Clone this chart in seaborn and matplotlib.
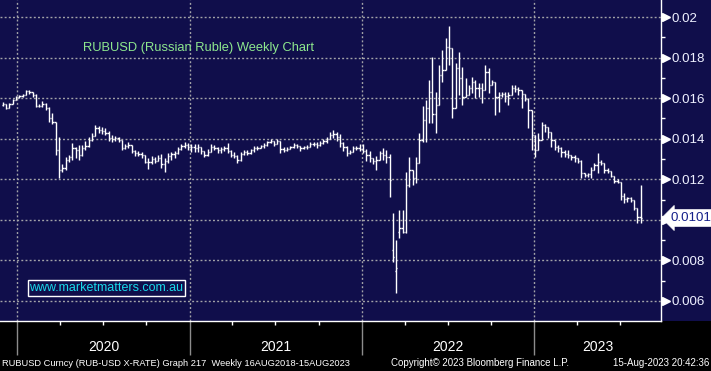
import numpy as np
import pandas as pd
import matplotlib
matplotlib.use("Agg")
import matplotlib.pyplot as plt
import matplotlib.dates as mdates
import matplotlib.transforms as mtransforms
from matplotlib.ticker import FuncFormatter, MultipleLocator, NullFormatter
from matplotlib.patches import Rectangle
import seaborn as sns

# ---------------- data (weekly OHLC, RUBUSD) ----------------
first_week = "2019-12-02"

open_ = [
    0.01566, 0.01571, 0.01552, 0.01571, 0.01591, 0.01606, 0.01611, 0.01616, 0.01635, 0.01630,
    0.01616, 0.01561, 0.01561, 0.01571, 0.01552, 0.01502, 0.01483, 0.01345, 0.01246, 0.01256,
    0.01295, 0.01310, 0.01354, 0.01345, 0.01320, 0.01354, 0.01364, 0.01394, 0.01414, 0.01453,
    0.01443, 0.01438, 0.01428, 0.01404, 0.01399, 0.01404, 0.01394, 0.01354, 0.01364, 0.01369,
    0.01340, 0.01330, 0.01325, 0.01320, 0.01285, 0.01285, 0.01300, 0.01290, 0.01305, 0.01275,
    0.01290, 0.01315, 0.01325, 0.01330, 0.01349, 0.01364, 0.01369, 0.01359, 0.01359, 0.01354,
    0.01359, 0.01340, 0.01320, 0.01335, 0.01359, 0.01354, 0.01345, 0.01349, 0.01354, 0.01340,
    0.01320, 0.01315, 0.01295, 0.01325, 0.01335, 0.01330, 0.01345, 0.01354, 0.01354, 0.01364,
    0.01369, 0.01384, 0.01389, 0.01374, 0.01389, 0.01349, 0.01345, 0.01349, 0.01359, 0.01369,
    0.01364, 0.01354, 0.01359, 0.01359, 0.01374, 0.01374, 0.01369, 0.01379, 0.01389, 0.01399,
    0.01418, 0.01423, 0.01409, 0.01379, 0.01359, 0.01330, 0.01335, 0.01354, 0.01354, 0.01349,
    0.01340, 0.01320, 0.01305, 0.01290, 0.01295, 0.01330, 0.01320, 0.01310, 0.00852, 0.00748,
    0.00940, 0.00960, 0.00940, 0.01172, 0.01246, 0.01206, 0.01280, 0.01394, 0.01492, 0.01552,
    0.01630, 0.01522, 0.01566, 0.01714, 0.01739, 0.01852, 0.01847, 0.01552, 0.01749, 0.01699,
    0.01606, 0.01616, 0.01650, 0.01680, 0.01650, 0.01650, 0.01640, 0.01729, 0.01665, 0.01680,
    0.01606, 0.01616, 0.01621, 0.01611, 0.01616, 0.01650, 0.01645, 0.01640, 0.01621, 0.01596,
    0.01542, 0.01418, 0.01345, 0.01394, 0.01468, 0.01458, 0.01433, 0.01394, 0.01359, 0.01354,
    0.01335, 0.01325, 0.01320, 0.01310, 0.01305, 0.01290, 0.01231, 0.01221, 0.01226, 0.01246,
    0.01271, 0.01285, 0.01280, 0.01246, 0.01241, 0.01216, 0.01192, 0.01187, 0.01118, 0.01103,
    0.01108, 0.01098, 0.01059, 0.01014,
]

high = [
    0.01581, 0.01571, 0.01576, 0.01596, 0.01611, 0.01616, 0.01621, 0.01640, 0.01640, 0.01630,
    0.01621, 0.01571, 0.01586, 0.01576, 0.01556, 0.01527, 0.01483, 0.01409, 0.01275, 0.01310,
    0.01320, 0.01379, 0.01359, 0.01369, 0.01369, 0.01389, 0.01409, 0.01428, 0.01468, 0.01463,
    0.01458, 0.01453, 0.01438, 0.01418, 0.01414, 0.01409, 0.01394, 0.01374, 0.01384, 0.01369,
    0.01345, 0.01340, 0.01335, 0.01320, 0.01305, 0.01315, 0.01310, 0.01320, 0.01325, 0.01305,
    0.01330, 0.01335, 0.01340, 0.01359, 0.01374, 0.01384, 0.01379, 0.01374, 0.01374, 0.01374,
    0.01359, 0.01340, 0.01349, 0.01374, 0.01369, 0.01359, 0.01359, 0.01364, 0.01379, 0.01345,
    0.01335, 0.01320, 0.01335, 0.01345, 0.01345, 0.01349, 0.01364, 0.01364, 0.01369, 0.01379,
    0.01389, 0.01399, 0.01389, 0.01399, 0.01389, 0.01359, 0.01359, 0.01364, 0.01379, 0.01374,
    0.01364, 0.01364, 0.01369, 0.01384, 0.01384, 0.01384, 0.01389, 0.01399, 0.01409, 0.01433,
    0.01443, 0.01433, 0.01423, 0.01384, 0.01364, 0.01345, 0.01364, 0.01364, 0.01374, 0.01374,
    0.01349, 0.01340, 0.01305, 0.01315, 0.01340, 0.01354, 0.01345, 0.01325, 0.01034, 0.00901,
    0.01049, 0.01049, 0.01236, 0.01310, 0.01246, 0.01310, 0.01428, 0.01561, 0.01591, 0.01690,
    0.01803, 0.01630, 0.01764, 0.01838, 0.01897, 0.01956, 0.01847, 0.01773, 0.01828, 0.01754,
    0.01699, 0.01665, 0.01704, 0.01690, 0.01675, 0.01675, 0.01764, 0.01749, 0.01690, 0.01680,
    0.01630, 0.01630, 0.01630, 0.01630, 0.01665, 0.01665, 0.01655, 0.01640, 0.01621, 0.01601,
    0.01542, 0.01418, 0.01428, 0.01483, 0.01473, 0.01458, 0.01433, 0.01394, 0.01369, 0.01359,
    0.01345, 0.01345, 0.01320, 0.01320, 0.01305, 0.01295, 0.01231, 0.01231, 0.01261, 0.01280,
    0.01330, 0.01295, 0.01280, 0.01256, 0.01241, 0.01216, 0.01202, 0.01187, 0.01133, 0.01113,
    0.01113, 0.01098, 0.01059, 0.01172,
]

low = [
    0.01561, 0.01547, 0.01552, 0.01571, 0.01591, 0.01601, 0.01606, 0.01616, 0.01621, 0.01606,
    0.01556, 0.01556, 0.01556, 0.01542, 0.01483, 0.01473, 0.01320, 0.01206, 0.01236, 0.01246,
    0.01285, 0.01295, 0.01305, 0.01295, 0.01315, 0.01345, 0.01359, 0.01389, 0.01414, 0.01428,
    0.01423, 0.01418, 0.01389, 0.01384, 0.01389, 0.01384, 0.01345, 0.01349, 0.01354, 0.01330,
    0.01315, 0.01315, 0.01305, 0.01280, 0.01251, 0.01275, 0.01280, 0.01290, 0.01256, 0.01236,
    0.01280, 0.01295, 0.01305, 0.01325, 0.01345, 0.01354, 0.01345, 0.01335, 0.01335, 0.01335,
    0.01325, 0.01310, 0.01315, 0.01335, 0.01345, 0.01330, 0.01330, 0.01340, 0.01330, 0.01310,
    0.01305, 0.01280, 0.01290, 0.01320, 0.01320, 0.01325, 0.01335, 0.01345, 0.01354, 0.01354,
    0.01364, 0.01379, 0.01364, 0.01374, 0.01330, 0.01335, 0.01340, 0.01349, 0.01354, 0.01354,
    0.01340, 0.01349, 0.01349, 0.01359, 0.01364, 0.01354, 0.01364, 0.01374, 0.01379, 0.01399,
    0.01404, 0.01389, 0.01359, 0.01340, 0.01315, 0.01325, 0.01335, 0.01345, 0.01340, 0.01330,
    0.01290, 0.01285, 0.01275, 0.01246, 0.01295, 0.01295, 0.01280, 0.01113, 0.00792, 0.00640,
    0.00911, 0.00935, 0.00935, 0.01162, 0.01172, 0.01182, 0.01280, 0.01384, 0.01384, 0.01478,
    0.01478, 0.01428, 0.01566, 0.01680, 0.01739, 0.01764, 0.01502, 0.01552, 0.01616, 0.01566,
    0.01606, 0.01616, 0.01626, 0.01601, 0.01606, 0.01576, 0.01640, 0.01626, 0.01665, 0.01517,
    0.01532, 0.01606, 0.01581, 0.01566, 0.01616, 0.01630, 0.01616, 0.01552, 0.01586, 0.01453,
    0.01345, 0.01310, 0.01345, 0.01394, 0.01433, 0.01404, 0.01359, 0.01345, 0.01335, 0.01310,
    0.01310, 0.01305, 0.01295, 0.01285, 0.01280, 0.01206, 0.01211, 0.01211, 0.01206, 0.01246,
    0.01231, 0.01271, 0.01231, 0.01231, 0.01211, 0.01182, 0.01182, 0.01098, 0.01083, 0.01088,
    0.01088, 0.01049, 0.00985, 0.00985,
]

close = [
    0.01571, 0.01552, 0.01571, 0.01591, 0.01606, 0.01611, 0.01616, 0.01635, 0.01630, 0.01616,
    0.01561, 0.01561, 0.01571, 0.01552, 0.01502, 0.01483, 0.01345, 0.01246, 0.01256, 0.01295,
    0.01310, 0.01354, 0.01345, 0.01320, 0.01354, 0.01364, 0.01394, 0.01414, 0.01453, 0.01443,
    0.01438, 0.01428, 0.01404, 0.01399, 0.01404, 0.01394, 0.01354, 0.01364, 0.01369, 0.01340,
    0.01330, 0.01325, 0.01320, 0.01285, 0.01285, 0.01300, 0.01290, 0.01305, 0.01275, 0.01290,
    0.01315, 0.01325, 0.01330, 0.01349, 0.01364, 0.01369, 0.01359, 0.01359, 0.01354, 0.01359,
    0.01340, 0.01320, 0.01335, 0.01359, 0.01354, 0.01345, 0.01349, 0.01354, 0.01340, 0.01320,
    0.01315, 0.01295, 0.01325, 0.01335, 0.01330, 0.01345, 0.01354, 0.01354, 0.01364, 0.01369,
    0.01384, 0.01389, 0.01374, 0.01389, 0.01349, 0.01345, 0.01349, 0.01359, 0.01369, 0.01364,
    0.01354, 0.01359, 0.01359, 0.01374, 0.01374, 0.01369, 0.01379, 0.01389, 0.01399, 0.01418,
    0.01423, 0.01409, 0.01379, 0.01359, 0.01330, 0.01335, 0.01354, 0.01354, 0.01349, 0.01340,
    0.01320, 0.01305, 0.01290, 0.01295, 0.01330, 0.01320, 0.01310, 0.01197, 0.00817, 0.00763,
    0.00960, 0.00940, 0.01172, 0.01246, 0.01206, 0.01280, 0.01394, 0.01492, 0.01552, 0.01630,
    0.01522, 0.01566, 0.01714, 0.01739, 0.01852, 0.01847, 0.01552, 0.01749, 0.01699, 0.01606,
    0.01616, 0.01650, 0.01680, 0.01650, 0.01650, 0.01640, 0.01729, 0.01665, 0.01680, 0.01606,
    0.01616, 0.01621, 0.01611, 0.01616, 0.01650, 0.01645, 0.01640, 0.01621, 0.01596, 0.01542,
    0.01418, 0.01345, 0.01394, 0.01468, 0.01458, 0.01433, 0.01394, 0.01359, 0.01354, 0.01335,
    0.01325, 0.01320, 0.01310, 0.01305, 0.01290, 0.01231, 0.01221, 0.01226, 0.01246, 0.01271,
    0.01285, 0.01280, 0.01246, 0.01241, 0.01216, 0.01192, 0.01187, 0.01118, 0.01103, 0.01108,
    0.01098, 0.01059, 0.01014, 0.01009,
]

y_ticks = [0.006, 0.008, 0.010, 0.012, 0.014, 0.016, 0.018, 0.020]
year_labels = ["2020", "2021", "2022", "2023"]

title_text = "RUBUSD (Russian Ruble) Weekly Chart"
watermark = "www.marketmatters.com.au"
footer_left = "RUBUSD Curncy (RUB-USD X-RATE) Graph 217  Weekly 16AUG2018-15AUG2023"
footer_mid = "Copyright\u00a9 2023 Bloomberg Finance L.P."
footer_right = "15-Aug-2023 20:42:36"

# ---------------- style ----------------
NAVY = "#100e4b"
GRID = "#a3a3a8"
W, H = 711, 371

sns.set_theme(style="dark", rc={
    "axes.facecolor": NAVY,
    "figure.facecolor": NAVY,
    "savefig.facecolor": NAVY,
})
plt.rcParams["font.family"] = ["Liberation Sans", "DejaVu Sans"]

df = pd.DataFrame({
    "date": pd.date_range(first_week, periods=len(close), freq="7D"),
    "open": open_, "high": high, "low": low, "close": close,
})
last = df["close"].iloc[-1]

fig = plt.figure(figsize=(W / 100, H / 100), dpi=100)
fig.patches.append(Rectangle((0, 0), 1, 50 / H, transform=fig.transFigure,
                             facecolor="black", edgecolor="none", zorder=-10))
ax = fig.add_axes([0, 50 / H, 661 / W, 321 / H])
ax.set_facecolor(NAVY)

# ---------------- OHLC bars ----------------
half = pd.Timedelta(days=2.7)
lw = 1.0
ax.vlines(df["date"], df["low"], df["high"], color="white", lw=lw, zorder=3)
ax.hlines(df["open"], df["date"] - half, df["date"], color="white", lw=lw, zorder=3)
ax.hlines(df["close"], df["date"], df["date"] + half, color="white", lw=lw, zorder=3)

x_left = pd.Timestamp("2019-11-26")
x_right = pd.Timestamp("2023-09-26")
ax.set_xlim(x_left, x_right)
ax.set_ylim(0.00501, 0.02084)

# ---------------- axes styling ----------------
for s in ["left", "top"]:
    ax.spines[s].set_visible(False)
for s in ["right", "bottom"]:
    ax.spines[s].set_visible(True)
    ax.spines[s].set_color("white")
    ax.spines[s].set_linewidth(1.0)


def ytick_fmt(v, p):
    # the last-price label covers the tick label nearest to it
    if abs(v - last) < 0.0005:
        return ""
    return f"{v:g}"


ax.yaxis.tick_right()
ax.set_yticks(y_ticks)
ax.yaxis.set_major_formatter(FuncFormatter(ytick_fmt))
ax.yaxis.set_minor_locator(MultipleLocator(0.001))
ax.tick_params(axis="y", which="major", length=0, pad=7.5, labelcolor="#eef0ff",
               labelsize=9.6, right=True, left=False)
ax.tick_params(axis="y", which="minor", length=2.8, width=1.0, color="white",
               right=True, left=False)

ax.xaxis.set_major_locator(mdates.YearLocator())
ax.xaxis.set_minor_locator(mdates.MonthLocator(bymonth=[4, 7, 10]))
ax.xaxis.set_major_formatter(NullFormatter())
ax.xaxis.set_minor_formatter(NullFormatter())
ax.tick_params(axis="x", which="major", length=24.5, width=1.0, color="#8c8c8c",
               bottom=True, direction="out")
ax.tick_params(axis="x", which="minor", length=2.6, width=1.0, color="white",
               bottom=True, direction="out")

ax.grid(True, which="major", axis="both", color=GRID, lw=1.0,
        ls=(0, (1.4, 1.6)))
ax.set_axisbelow(True)

# triangle markers at major y ticks
tri_trans = mtransforms.blended_transform_factory(ax.transAxes, ax.transData) + \
    mtransforms.ScaledTranslation(3.3 / 72, 0, fig.dpi_scale_trans)
ax.plot(np.ones(len(y_ticks)), y_ticks, ls="none", marker=">", ms=5.5,
        color="white", mec="white", transform=tri_trans, clip_on=False, zorder=5)

# year labels, centred in the visible part of each year
for lab in year_labels:
    ys = max(pd.Timestamp(f"{lab}-01-01"), x_left)
    ye = min(pd.Timestamp(f"{int(lab) + 1}-01-01"), x_right)
    mid = ys + (ye - ys) / 2
    ax.annotate(lab, xy=(mdates.date2num(mid), 0), xycoords=("data", "axes fraction"),
                xytext=(0, -18.6), textcoords="offset points", ha="center", va="center",
                color="white", fontsize=10, annotation_clip=False)

# last price label
lab_trans = mtransforms.blended_transform_factory(ax.transAxes, ax.transData)
ax.annotate(f"{last:.4f}", xy=(1.0, last), xycoords=lab_trans,
            xytext=(7.0, 0), textcoords="offset points", ha="left", va="center",
            color="#15208a", fontsize=9.6, annotation_clip=False, zorder=6,
            bbox=dict(boxstyle="larrow,pad=0.18", fc="white", ec="white", lw=0.5))

# ---------------- texts ----------------
fig.text(83 / W, 1 - 48 / H, title_text, color="#8ee88e", fontsize=9.3,
         ha="left", va="center")
fig.text(106.5 / W, 1 - 288 / H, watermark, color="#19d9ea", fontsize=9.0,
         ha="center", va="center",
         bbox=dict(boxstyle="square,pad=0.14", fc=NAVY, ec="white", lw=1.0))

fy = 7.5 / H
fig.text(2 / W, fy, footer_left, color="white", fontsize=6.7, ha="left", va="center")
fig.text(391 / W, fy, footer_mid, color="white", fontsize=7.0, ha="left", va="center")
fig.text(709 / W, fy, footer_right, color="white", fontsize=7.0, ha="right", va="center")

fig.savefig("out.png", dpi=100, facecolor=NAVY)
